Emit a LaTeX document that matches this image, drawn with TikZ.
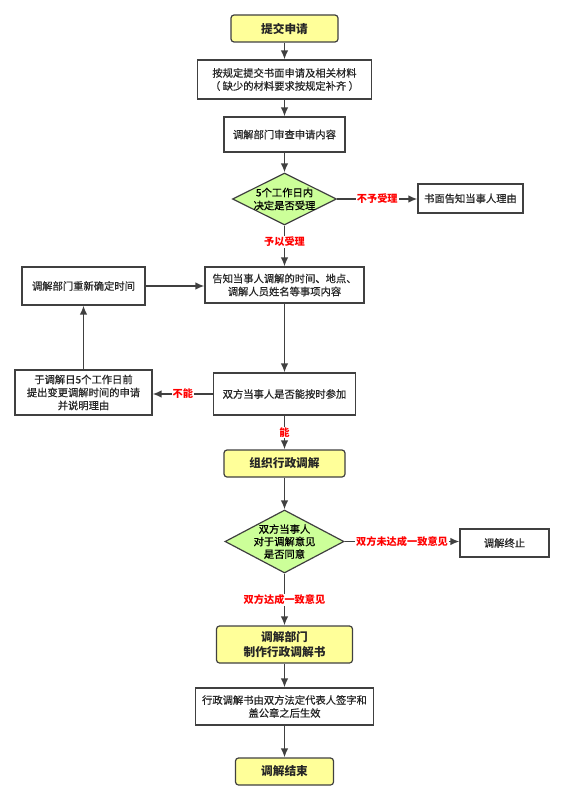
\documentclass[tikz,border=0pt]{standalone}
\usepackage{fontspec}
\setmainfont{Noto Sans CJK SC}[RawFeature={embolden=0.6}]
\newfontfamily\strongfont{Noto Sans CJK SC}
\usetikzlibrary{shapes.geometric,arrows.meta}
\definecolor{termyellow}{HTML}{FFFF99}
\definecolor{decidegreen}{HTML}{CCFF99}
\definecolor{linegray}{HTML}{404040}
\tikzset{
  box/.style={draw=linegray, line width=1.2pt, fill=white, align=center, inner sep=0pt,
    text=black!85, font=\fontsize{10.3}{13}\selectfont},
  term/.style={box, rounded corners=3pt, fill=termyellow, font=\strongfont\bfseries\fontsize{11.7}{15}\selectfont},
  decide/.style={diamond, draw=linegray, line width=1.2pt, fill=decidegreen, inner sep=0pt},
  flow/.style={-{Latex[length=9pt,width=7.5pt]}, draw=linegray, line width=1.5pt},
  answer/.style={fill=white, text=red, inner sep=1pt, font=\strongfont\bfseries\fontsize{10.2}{12}\selectfont},
}
\begin{document}
\begin{tikzpicture}[x=1pt,y=-1pt]
\useasboundingbox (0,0) rectangle (562,800);
 \node[term, minimum width=107pt, minimum height=27pt] (1) at (284.5,28.5) {提交申请};
  \node[box, minimum width=174pt, minimum height=39pt] (2) at (284.5,79.5) {按规定提交书面申请及相关材料\\（ 缺少的材料要求按规定补齐 ）};
  \node[box, minimum width=121pt, minimum height=35pt] (3) at (284.5,134.5) {调解部门审查申请内容};
  \node[decide, minimum width=104pt, minimum height=52pt,
    label={[align=center, font=\fontsize{10.3}{13}\selectfont]center:5个工作日内\\决定是否受理}] (4) at (284.5,199) {};
  \node[box, minimum width=105pt, minimum height=29pt] (r1) at (470.5,198.5) {书面告知当事人理由};
  \node[box, minimum width=159pt, minimum height=36pt] (5) at (284.5,285) {告知当事人调解的时间、地点、\\调解人员姓名等事项内容};
  \node[box, minimum width=123pt, minimum height=38pt] (l1) at (83.5,286) {调解部门重新确定时间};
  \node[box, minimum width=142pt, minimum height=42pt] (6) at (284.5,394) {双方当事人是否能按时参加};
  \node[box, minimum width=137pt, minimum height=45pt] (l2) at (83.5,392.5) {于调解日5个工作日前\\提出变更调解时间的申请\\并说明理由};
  \node[term, minimum width=121pt, minimum height=27pt] (7) at (284.5,463.5) {组织行政调解};
  \node[decide, minimum width=119pt, minimum height=63pt,
    label={[align=center, font=\fontsize{10.3}{12.5}\selectfont]center:双方当事人\\对于调解意见\\是否同意}] (8) at (284.5,541.5) {};
  \node[box, minimum width=89pt, minimum height=28pt] (r2) at (504.5,543) {调解终止};
  \node[term, minimum width=136pt, minimum height=37pt] (9) at (284.5,644.5) {调解部门\\制作行政调解书};
  \node[box, minimum width=178pt, minimum height=37pt] (10) at (284.5,706.5) {行政调解书由双方法定代表人签字和\\盖公章之后生效};
  \node[term, minimum width=98pt, minimum height=27pt] (11) at (284.5,771.5) {调解结束};
\draw[flow] (1)--(2);
\draw[flow] (2)--(3);
\draw[flow] (3)--(4);
\draw[flow] (4) -- node[answer] {不予受理} (4.east -| r1.west);
\draw[flow] (4) -- node[answer, pos=0.4] {予以受理} (5);
\draw[flow] (5)--(6);
\draw[flow] (6.west) -- node[answer] {不能} (6.west -| l2.east);
\draw[flow] (l2)--(l1);
\draw[flow] (l1.east) -- (l1.east -| 5.west);
\draw[flow] (6) -- node[answer] {能} (7);
\draw[flow] (7)--(8);
\draw[flow] (8.east) -- node[answer] {双方未达成一致意见} (8.east -| r2.west);
\draw[flow] (8) -- node[answer] {双方达成一致意见} (9);
\draw[flow] (9)--(10);
\draw[flow] (10)--(11);
 \end{tikzpicture}
\end{document}
